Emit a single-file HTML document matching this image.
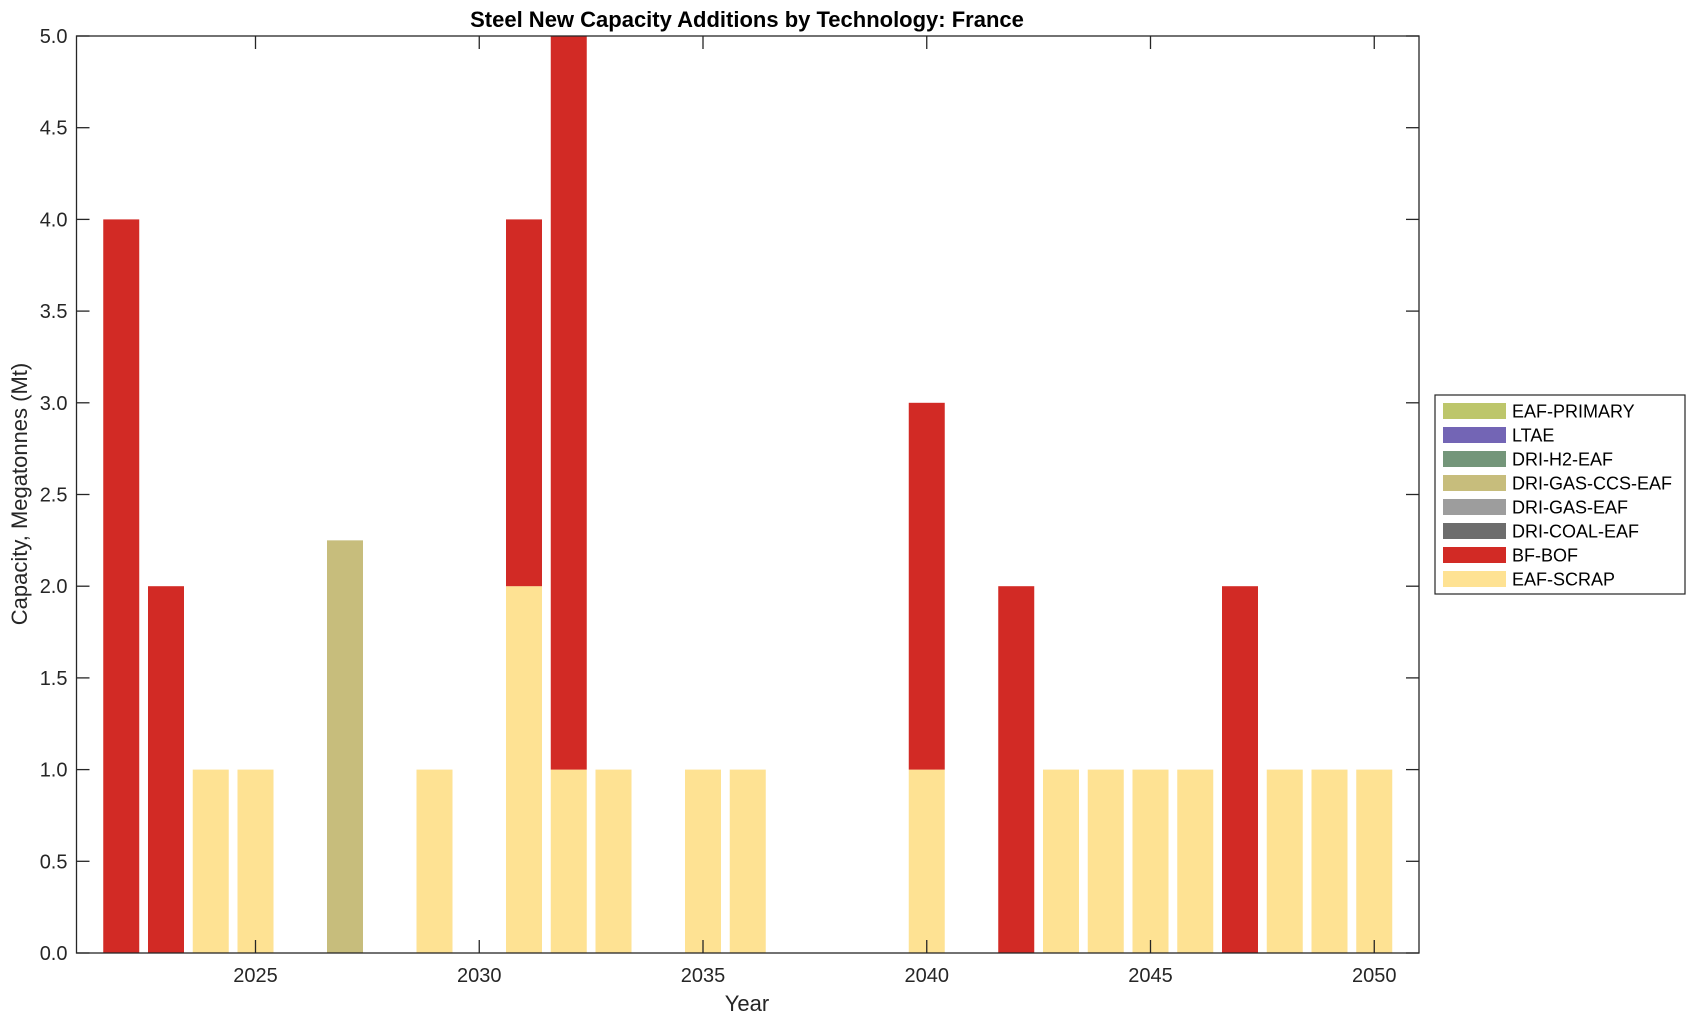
<!DOCTYPE html>
<html><head><meta charset="utf-8"><style>
body{margin:0;background:#fff;}
svg{display:block;font-family:"Liberation Sans",Arial,sans-serif;}
</style></head><body>
<svg id="s" width="1696" height="1021" viewBox="0 0 1696 1021" xmlns="http://www.w3.org/2000/svg"></svg>
<script>
const L=76.5,R=1419,T=36,B=953;
const sy=v=>B-v*(B-T)/5, sx=y=>L+(y-2021)*(R-L)/30;
const C={S:"#fee293",BF:"#d22a25",CCS:"#c7bd7c"};
const data=[[2022,0,4,0],[2023,0,2,0],[2024,1,0,0],[2025,1,0,0],[2027,0,0,2.25],[2029,1,0,0],[2031,2,2,0],[2032,1,4,0],[2033,1,0,0],[2035,1,0,0],[2036,1,0,0],[2040,1,2,0],[2042,0,2,0],[2043,1,0,0],[2044,1,0,0],[2045,1,0,0],[2046,1,0,0],[2047,0,2,0],[2048,1,0,0],[2049,1,0,0],[2050,1,0,0]];
let h="";
const w=36;
for(const [yr,s,bf,ccs] of data){
 const x=sx(yr)-w/2;
 if(s) h+=`<rect x="${x}" y="${sy(s)}" width="${w}" height="${sy(0)-sy(s)}" fill="${C.S}"/>`;
 if(bf) h+=`<rect x="${x}" y="${sy(s+bf)}" width="${w}" height="${sy(s)-sy(s+bf)}" fill="${C.BF}"/>`;
 if(ccs) h+=`<rect x="${x}" y="${sy(ccs)}" width="${w}" height="${sy(0)-sy(ccs)}" fill="${C.CCS}"/>`;
}
h+=`<rect x="${L}" y="${T}" width="${R-L}" height="${B-T}" fill="none" stroke="#262626" stroke-width="1.3"/>`;
for(let i=0;i<=10;i++){const v=i/2,y=sy(v);
 h+=`<line x1="${L}" y1="${y}" x2="${L+13}" y2="${y}" stroke="#262626" stroke-width="1.3"/><line x1="${R}" y1="${y}" x2="${R-13}" y2="${y}" stroke="#262626" stroke-width="1.3"/>`;
 h+=`<text x="${L-9}" y="${y+7}" text-anchor="end" font-size="20" fill="#262626">${v.toFixed(1)}</text>`;}
for(let yr=2025;yr<=2050;yr+=5){const x=sx(yr);
 h+=`<line x1="${x}" y1="${B}" x2="${x}" y2="${B-13}" stroke="#262626" stroke-width="1.3"/><line x1="${x}" y1="${T}" x2="${x}" y2="${T+13}" stroke="#262626" stroke-width="1.3"/>`;
 h+=`<text x="${x}" y="982" text-anchor="middle" font-size="20" fill="#262626">${yr}</text>`;}
h+=`<text x="747" y="1011" text-anchor="middle" font-size="22" fill="#262626">Year</text>`;
h+=`<text transform="translate(27,494) rotate(-90)" text-anchor="middle" font-size="22" fill="#262626">Capacity, Megatonnes (Mt)</text>`;
h+=`<text x="747" y="27" text-anchor="middle" font-size="22" font-weight="bold" fill="#000">Steel New Capacity Additions by Technology: France</text>`;
h+=`<rect x="1435" y="395" width="250" height="199" fill="#fff" stroke="#262626" stroke-width="1.2"/>`;
const leg=[["EAF-PRIMARY","#bdc66b"],["LTAE","#7365b5"],["DRI-H2-EAF","#74967a"],["DRI-GAS-CCS-EAF","#c7bd7c"],["DRI-GAS-EAF","#9d9d9d"],["DRI-COAL-EAF","#6d6d6d"],["BF-BOF","#d22a25"],["EAF-SCRAP","#fee293"]];
leg.forEach(([n,c],i)=>{const cy=411+i*24;
 h+=`<rect x="1443" y="${cy-8}" width="63" height="16" fill="${c}"/>`;
 h+=`<text x="1512" y="${cy+6.5}" font-size="18" fill="#000">${n}</text>`;});
document.getElementById("s").innerHTML=h;
</script>
</body></html>
